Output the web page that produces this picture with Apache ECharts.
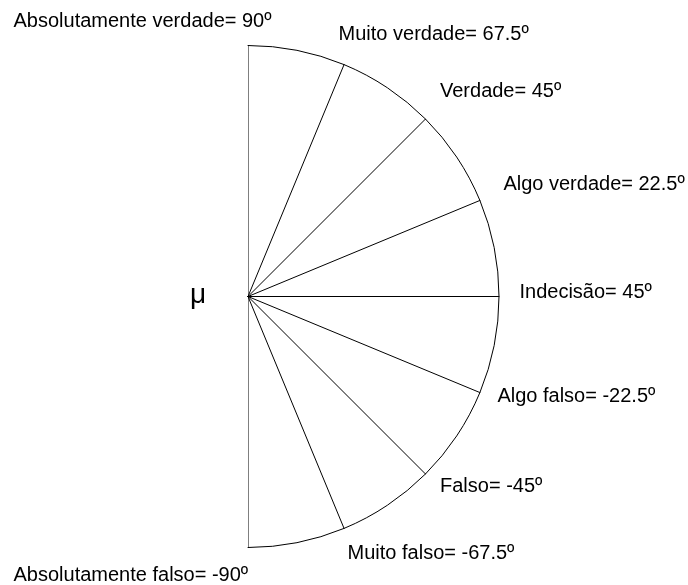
<!DOCTYPE html>
<html>
<head>
    <meta charset="utf-8">
    <title>Escala de verdade</title>
    <script src="https://cdn.jsdelivr.net/npm/echarts@6/dist/echarts.min.js"></script>
    <style>
        html, body { margin: 0; padding: 0; background: #fff; }
        #chart { width: 688px; height: 585px; }
    </style>
</head>
<body>
<div id="chart"></div>
<script>
    // categorias e ângulos (graus)
    var categories = ['Absolutamente verdade', 'Muito verdade', 'Verdade', 'Algo verdade',
        'Indecisão', 'Algo falso', 'Falso', 'Muito falso', 'Absolutamente falso'];
    var angles = [90, 67.5, 45, 22.5, 0, -22.5, -45, -67.5, -90];
    // texto mostrado depois do "=" (o original diz 45º na indecisão)
    var shownValues = ['90º', '67.5º', '45º', '22.5º', '45º', '-22.5º', '-45º', '-67.5º', '-90º'];

    // deslocamento do rótulo relativo à ponta de cada raio (px)
    var labelOffsets = [[-235, -24], [-6, -30], [14, -28], [23, -16], [20, -4],
        [17, 4], [14, 13], [3, 25], [-235, 28]];

    var myChart = echarts.init(document.getElementById('chart'));
    var font = 'Liberation Sans, Arial, sans-serif';

    var series = categories.map(function (name, i) {
        return {
            name: name,
            type: 'line',
            coordinateSystem: 'polar',
            clip: false,
            symbol: 'circle',
            symbolSize: 1,
            showSymbol: true,
            showAllSymbol: true,
            silent: true,
            lineStyle: { color: '#000', width: 1 },
            itemStyle: { color: '#000' },
            data: [
                [0, angles[i]],
                {
                    value: [1, angles[i]],
                    label: {
                        show: true,
                        position: 'right',
                        distance: 0,
                        offset: labelOffsets[i],
                        formatter: name + '= ' + shownValues[i],
                        color: '#000',
                        fontSize: 20,
                        fontFamily: font
                    }
                }
            ]
        };
    });

    var option = {
        animation: false,
        backgroundColor: '#fff',
        polar: {
            center: [248, 296.5],
            radius: 251
        },
        angleAxis: {
            type: 'value',
            min: -90,
            max: 90,
            startAngle: -90,
            endAngle: 90,
            clockwise: false,
            axisLine: { show: true, lineStyle: { color: '#000', width: 1 } },
            axisTick: { show: false },
            axisLabel: { show: false },
            splitLine: { show: false }
        },
        radiusAxis: {
            type: 'value',
            min: 0,
            max: 1,
            axisLine: { show: false },
            axisTick: { show: false },
            axisLabel: { show: false },
            splitLine: { show: false }
        },
        graphic: [{
            type: 'text',
            x: 198,
            y: 295,
            style: {
                text: 'μ',
                fill: '#000',
                font: '28px ' + font,
                align: 'center',
                verticalAlign: 'middle'
            }
        }],
        series: series
    };

    myChart.setOption(option);
</script>
</body>
</html>
